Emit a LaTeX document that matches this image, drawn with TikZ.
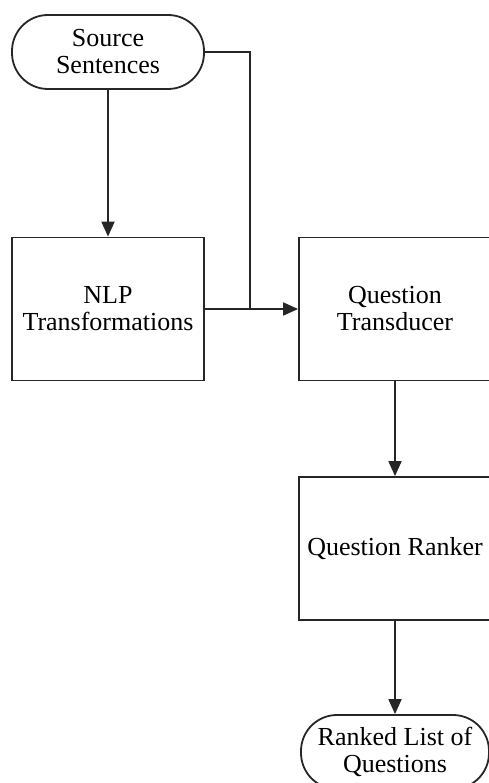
\documentclass[tikz,border=0pt]{standalone}
\usepackage{fontspec}
\setmainfont{Liberation Serif}
\usetikzlibrary{arrows.meta}
\begin{document}
\begin{tikzpicture}[x=1pt,y=-1pt,
  box/.style={draw=black!85, line width=1.8pt, minimum width=192pt, minimum height=143pt,
    align=center, inner sep=0pt, font=\fontsize{26}{27}\selectfont},
  term/.style={box, rounded corners=36pt, minimum height=74pt},
  link/.style={draw=black!85, line width=1.8pt},
  flow/.style={link, -{Triangle[length=15pt,width=13pt]}}]
  \useasboundingbox (0,0) rectangle (489,783);

  % Knoten
  \node[term] (src)    at (108,52)    {Source\\Sentences};
  \node[box]  (nlp)    at (108,309)   {NLP\\Transformations};
  \node[box]  (qt)     at (395,309)   {Question\\Transducer};
  \node[box]  (rank)   at (395,548.5) {Question Ranker};
  \node[term, minimum width=188pt] (ranked) at (395,752) {Ranked List of\\Questions};
  \coordinate (join) at (250,309);

  % Verbindungen
  \draw[flow] (src) -- (nlp);
  \draw[link] (src.east) -| (join);
  \draw[flow] (nlp) -- (qt);
  \draw[flow] (qt) -- (rank);
  \draw[flow] (rank) -- (ranked);
\end{tikzpicture}
\end{document}
